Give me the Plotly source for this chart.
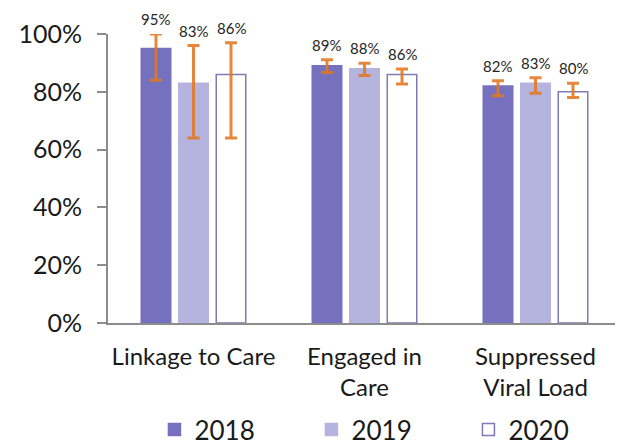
import plotly.graph_objects as go

categories = ["Linkage to Care", "Engaged in<br>Care", "Suppressed<br>Viral Load"]
years = ["2018", "2019", "2020"]
values = {
    "2018": [0.95, 0.89, 0.82],
    "2019": [0.83, 0.88, 0.83],
    "2020": [0.86, 0.86, 0.80],
}
upper = {
    "2018": [1.00, 0.911, 0.838],
    "2019": [0.96, 0.899, 0.849],
    "2020": [0.97, 0.879, 0.830],
}
lower = {
    "2018": [0.84, 0.867, 0.786],
    "2019": [0.64, 0.856, 0.795],
    "2020": [0.64, 0.827, 0.780],
}
labels = {
    "2018": ["95%", "89%", "82%"],
    "2019": ["83%", "88%", "83%"],
    "2020": ["86%", "86%", "80%"],
}
ytick_vals = [0, 0.2, 0.4, 0.6, 0.8, 1.0]
ytick_text = ["0%", "20%", "40%", "60%", "80%", "100%"]

fills = {"2018": "#7571BF", "2019": "#B4B4DF", "2020": "#FFFFFF"}
lines = {"2018": "#7571BF", "2019": "#B4B4DF", "2020": "#7E7BB3"}
legend_widths = {"2018": 112, "2019": 112, "2020": 80}
err_color = "rgba(228,118,32,0.88)"

xs = list(range(len(categories)))
bargap = 0.342
bargroupgap = 0.213

fig = go.Figure()
for y in years:
    v = values[y]
    fig.add_trace(go.Bar(
        name=y, x=xs, y=v,
        legendwidth=legend_widths[y],
        marker=dict(color=fills[y], line=dict(color=lines[y], width=1.5)),
        error_y=dict(
            type="data", symmetric=False,
            array=[u - a for u, a in zip(upper[y], v)],
            arrayminus=[a - l for a, l in zip(v, lower[y])],
            color=err_color, thickness=3, width=6,
        ),
    ))

font = "Lato, 'Open Sans', sans-serif"
slot = (1 - bargap) / len(years)
annotations = []
for j, y in enumerate(years):
    for i in xs:
        annotations.append(dict(
            x=i + (j - 1) * slot, y=upper[y][i], text=labels[y][i],
            showarrow=False, yanchor="middle", yshift=15,
            font=dict(family=font, size=15, color="#262626"),
        ))

# page body has an 8px default margin; figure sized to fit the 623x448 window
fig.update_layout(
    width=615, height=440,
    margin=dict(l=100, r=2, t=26, b=125, autoexpand=False),
    paper_bgcolor="white", plot_bgcolor="white",
    barmode="group", bargap=bargap, bargroupgap=bargroupgap,
    annotations=annotations,
    showlegend=True,
    legend=dict(
        orientation="h", xref="container", yref="container",
        x=0.2381, xanchor="left", y=0.042, yanchor="middle",
        font=dict(family=font, size=26, color="#1a1a1a"),
        entrywidthmode="pixels", traceorder="normal",
        bgcolor="rgba(0,0,0,0)",
    ),
)
fig.update_xaxes(
    range=[-0.5, 2.5], tickvals=xs, ticktext=categories,
    showline=True, linecolor="#8C8C8C", linewidth=2,
    ticks="", showgrid=False, zeroline=False,
    tickfont=dict(family=font, size=24, color="#1a1a1a"),
    ticklabelstandoff=11,
)
fig.update_yaxes(
    range=[0, 1], tickvals=ytick_vals, ticktext=ytick_text,
    showline=True, linecolor="#8C8C8C", linewidth=2,
    ticks="outside", ticklen=9, tickwidth=2, tickcolor="#8C8C8C",
    showgrid=False, zeroline=False,
    tickfont=dict(family=font, size=25, color="#1a1a1a"),
    ticklabelstandoff=10,
)
fig.write_html("out.html")
